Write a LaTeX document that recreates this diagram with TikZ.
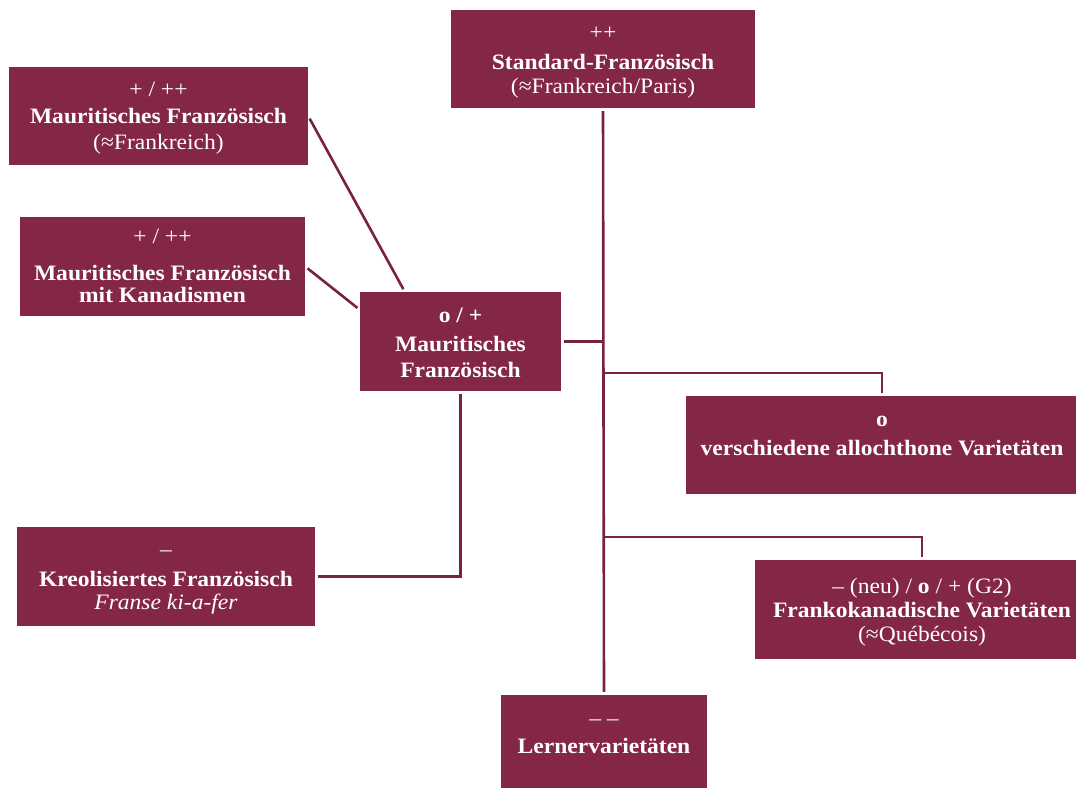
\documentclass[tikz,border=0pt]{standalone}
\usepackage{fontspec}
\setmainfont[FakeStretch=1.07]{Liberation Serif}
\usetikzlibrary{calc}
\definecolor{wine}{RGB}{132,38,69}
\definecolor{wineline}{RGB}{122,32,64}
% centred stack of lines whose baseline is that of its first line
\newcommand{\lines}[1]{\begin{tabular}[t]{@{}c@{}}#1\end{tabular}}

\begin{document}
\begin{tikzpicture}[x=1pt,y=-1pt,
  box/.style={fill=wine, inner sep=0pt},
  txt/.style={text=white, inner sep=0pt, anchor=base,
    font=\fontsize{22}{22.4}\selectfont},
  link/.style={draw=wineline, line width=2.6pt, shorten <=3pt, shorten >=3pt}]
\useasboundingbox (0,0) rectangle (1076,787);
\clip (0,0) rectangle (1076,787);

% variety boxes
\node[box, minimum width=304pt, minimum height=98pt] (std)   at (603,59)      {};
\node[box, minimum width=299pt, minimum height=98pt] (mf1)   at (158.5,116)   {};
\node[box, minimum width=285pt, minimum height=99pt] (mf2)   at (162.5,266.5) {};
\node[box, minimum width=201pt, minimum height=99pt] (mfc)   at (460.5,341.5) {};
\node[box, minimum width=392pt, minimum height=98pt] (allo)  at (882,445)     {};
\node[box, minimum width=298pt, minimum height=99pt] (kreol) at (166,576.5)   {};
\node[box, minimum width=334pt, minimum height=99pt] (fk)    at (922,609.5)   {};
\node[box, minimum width=206pt, minimum height=99pt] (lern)  at (604,744.5)   {};

% box texts (positioned at the baseline of their first line)
\node[txt] (std-t) at (603,39.5)
  {\lines{++\\[7.4pt]\textbf{Standard-Französisch}\\[1.6pt](≈Frankreich/Paris)}};
\node[txt] (mf1-t) at (158.5,96.3)
  {\lines{+ / ++\\[5pt]\textbf{Mauritisches Französisch}\\[3.6pt](≈Frankreich)}};
\node[txt] (mf2-t) at (162.5,243.7)
  {\lines{+ / ++\\[14.2pt]\textbf{Mauritisches Französisch}\\\textbf{mit Kanadismen}}};
\node[txt] (mfc-t) at (460.5,322.7)
  {\lines{\textbf{o / +}\\[6.6pt]\textbf{Mauritisches}\\[3.2pt]\textbf{Französisch}}};
\node[txt] (allo-t) at (882,426.7)
  {\lines{\textbf{o}\\[6.6pt]\textbf{verschiedene allochthone Varietäten}}};
\node[txt] (kreol-t) at (166,556.3)
  {\lines{–\\[7.3pt]\textbf{Kreolisiertes Französisch}\\[1.3pt]\textit{Franse ki-a-fer}}};
\node[txt] (fk-t) at (922,593.3)
  {\lines{– (neu) / \textbf{o} / + (G2)\\[1.3pt]\textbf{Frankokanadische Varietäten}\\[1.6pt](≈Québécois)}};
\node[txt] (lern-t) at (604,725.3)
  {\lines{– –\\[5.6pt]\textbf{Lernervarietäten}}};

% junctions on the trunk
\coordinate (j1) at (603,373);
\coordinate (j2) at (603,537);

% connectors
\draw[link] (std.south) -- (lern.north);
\draw[link, shorten >=0pt] (mfc.east) -- (mfc.east -| std.south);
\draw[link, shorten <=0pt] (j1) -| (allo.north);
\draw[link, shorten <=0pt] (j2) -| (fk.north);
\draw[link] (mf1.east) -- ($(mfc.north west)+(45,0)$);
\draw[link] (mf2.east) -- ($(mfc.north west)+(0,18)$);
\draw[link] (mfc.south) |- (kreol.east);
\end{tikzpicture}
\end{document}
